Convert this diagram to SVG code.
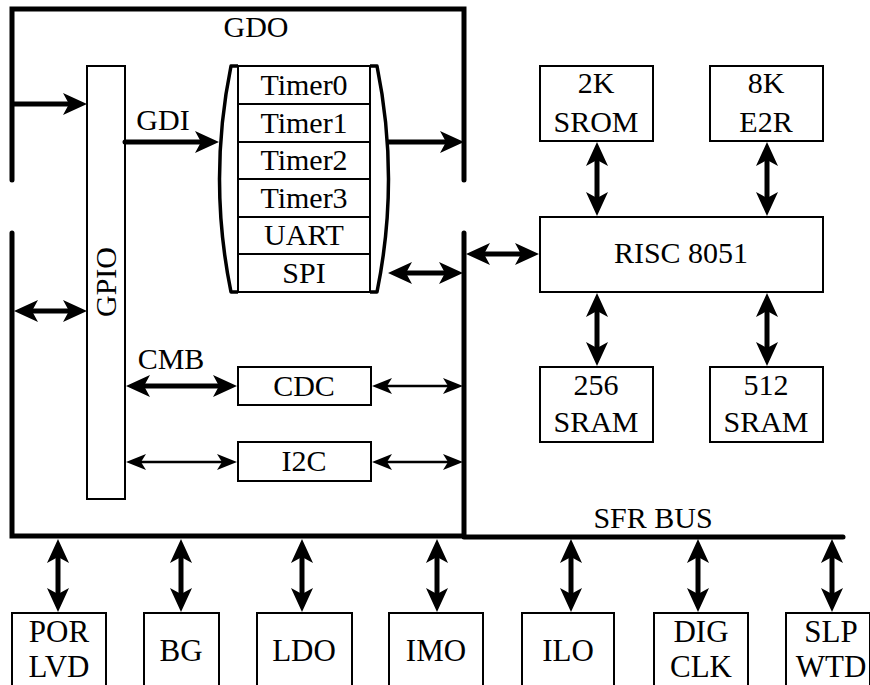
<svg xmlns="http://www.w3.org/2000/svg" width="870" height="685" viewBox="0 0 870 685">
<defs>
<style>
text{font-family:'Liberation Serif','Times New Roman',serif;font-size:30px;fill:#000;text-anchor:middle}
.big{font-size:31px}
.box{fill:#fff;stroke:#000;stroke-width:2}
.frame{fill:none;stroke:#000;stroke-width:5;stroke-linecap:round;stroke-linejoin:miter}
.thick{fill:none;stroke:#000;stroke-width:5}
.thin{fill:none;stroke:#000;stroke-width:2.5}
.brk{fill:none;stroke:#000;stroke-width:3.5;stroke-linejoin:round}
.row{stroke:#000;stroke-width:2}
</style>
<marker id="big" viewBox="0 0 24 22" markerWidth="24" markerHeight="22" markerUnits="userSpaceOnUse" refX="12" refY="11" orient="auto-start-reverse">
<path d="M0,0 L24,11 L0,22 L6,11 z" fill="#000"/>
</marker>
<marker id="small" viewBox="0 0 20 16" markerWidth="20" markerHeight="16" markerUnits="userSpaceOnUse" refX="10" refY="8" orient="auto-start-reverse">
<path d="M0,0 L20,8 L0,16 L5,8 z" fill="#000"/>
</marker>
</defs>
<rect width="870" height="685" fill="#fff"/>

<g id="frame">
<path class="frame" d="M12,180 L12,9 L464,9 L464,180"/>
<path class="frame" d="M12,233 L12,536 L464,536 L464,233"/>
<path class="frame" d="M464,537 L843,537"/>
<text x="256" y="37">GDO</text>
<text x="653" y="528">SFR BUS</text>
</g>

<g id="gpio">
<rect class="box" x="87" y="66" width="38" height="433"/>
<text transform="translate(116,282) rotate(-90)">GPIO</text>
</g>

<g id="periph">
<rect class="box" x="238" y="66" width="132" height="226"/>
<line class="row" x1="238" y1="104" x2="370" y2="104"/>
<line class="row" x1="238" y1="142" x2="370" y2="142"/>
<line class="row" x1="238" y1="179" x2="370" y2="179"/>
<line class="row" x1="238" y1="217" x2="370" y2="217"/>
<line class="row" x1="238" y1="254" x2="370" y2="254"/>
<path class="brk" d="M238,66 L231,66 Q208,179 231,292 L238,292"/>
<path class="brk" d="M370,66 L377,66 Q400,179 377,292 L370,292"/>
<text x="304" y="95">Timer0</text>
<text x="304" y="133">Timer1</text>
<text x="304" y="170">Timer2</text>
<text x="304" y="208">Timer3</text>
<text x="304" y="245">UART</text>
<text x="304" y="283">SPI</text>
</g>

<g id="cdc">
<rect class="box" x="238" y="367" width="133" height="38"/>
<text x="304" y="396">CDC</text>
</g>
<g id="i2c">
<rect class="box" x="238" y="442" width="133" height="39"/>
<text x="304" y="471">I2C</text>
</g>

<g id="srom">
<rect class="box" x="540" y="66" width="113" height="75"/>
<text x="596" y="93">2K</text>
<text x="596" y="132">SROM</text>
</g>
<g id="e2r">
<rect class="box" x="710" y="66" width="113" height="75"/>
<text x="766" y="93">8K</text>
<text x="766" y="132">E2R</text>
</g>
<g id="risc">
<rect class="box" x="540" y="217" width="283" height="75"/>
<text x="681" y="263">RISC 8051</text>
</g>
<g id="sram256">
<rect class="box" x="540" y="367" width="113" height="75"/>
<text x="596" y="395">256</text>
<text x="596" y="432">SRAM</text>
</g>
<g id="sram512">
<rect class="box" x="710" y="367" width="113" height="75"/>
<text x="766" y="395">512</text>
<text x="766" y="432">SRAM</text>
</g>

<g id="porlvd">
<rect class="box" x="12" y="613" width="94" height="80"/>
<text class="big" x="59" y="642">POR</text>
<text class="big" x="59" y="677">LVD</text>
</g>
<g id="bg">
<rect class="box" x="144" y="613" width="75" height="80"/>
<text class="big" x="181" y="661">BG</text>
</g>
<g id="ldo">
<rect class="box" x="257" y="613" width="95" height="80"/>
<text class="big" x="304" y="661">LDO</text>
</g>
<g id="imo">
<rect class="box" x="389" y="613" width="94" height="80"/>
<text class="big" x="436" y="661">IMO</text>
</g>
<g id="ilo">
<rect class="box" x="522" y="613" width="92" height="80"/>
<text class="big" x="568" y="661">ILO</text>
</g>
<g id="digclk">
<rect class="box" x="654" y="613" width="94" height="80"/>
<text class="big" x="701" y="642">DIG</text>
<text class="big" x="701" y="677">CLK</text>
</g>
<g id="slpwtd">
<rect class="box" x="786" y="613" width="84" height="80"/>
<text class="big" x="831" y="642">SLP</text>
<text class="big" x="831" y="677">WTD</text>
</g>

<g id="connectors">
<path class="thick" d="M12,104 L75,104" marker-end="url(#big)"/>
<path class="thick" d="M125,142 L207,142" stroke-linecap="round" marker-end="url(#big)"/>
<text x="163" y="130">GDI</text>
<path class="thick" d="M387,142 L452,142" marker-end="url(#big)"/>
<path class="thick" d="M26,311 L75,311" marker-start="url(#big)" marker-end="url(#big)"/>
<path class="thick" d="M400,273 L451,273" marker-start="url(#big)" marker-end="url(#big)"/>
<path class="thick" d="M138,386 L225,386" marker-start="url(#big)" marker-end="url(#big)"/>
<text x="171" y="369">CMB</text>
<path class="thin" d="M382,386 L453,386" marker-start="url(#small)" marker-end="url(#small)"/>
<path class="thin" d="M136,462 L227,462" marker-start="url(#small)" marker-end="url(#small)"/>
<path class="thin" d="M382,462 L453,462" marker-start="url(#small)" marker-end="url(#small)"/>
<path class="thick" d="M478,254 L527,254" marker-start="url(#big)" marker-end="url(#big)"/>
<path class="thick" d="M597,154 L597,204" marker-start="url(#big)" marker-end="url(#big)"/>
<path class="thick" d="M767,154 L767,204" marker-start="url(#big)" marker-end="url(#big)"/>
<path class="thick" d="M597,305 L597,354" marker-start="url(#big)" marker-end="url(#big)"/>
<path class="thick" d="M767,305 L767,354" marker-start="url(#big)" marker-end="url(#big)"/>
<path class="thick" d="M58,551 L58,600" marker-start="url(#big)" marker-end="url(#big)"/>
<path class="thick" d="M181,551 L181,600" marker-start="url(#big)" marker-end="url(#big)"/>
<path class="thick" d="M302,551 L302,600" marker-start="url(#big)" marker-end="url(#big)"/>
<path class="thick" d="M437,551 L437,600" marker-start="url(#big)" marker-end="url(#big)"/>
<path class="thick" d="M571,551 L571,600" marker-start="url(#big)" marker-end="url(#big)"/>
<path class="thick" d="M698,551 L698,600" marker-start="url(#big)" marker-end="url(#big)"/>
<path class="thick" d="M832,551 L832,600" marker-start="url(#big)" marker-end="url(#big)"/>
</g>
</svg>
